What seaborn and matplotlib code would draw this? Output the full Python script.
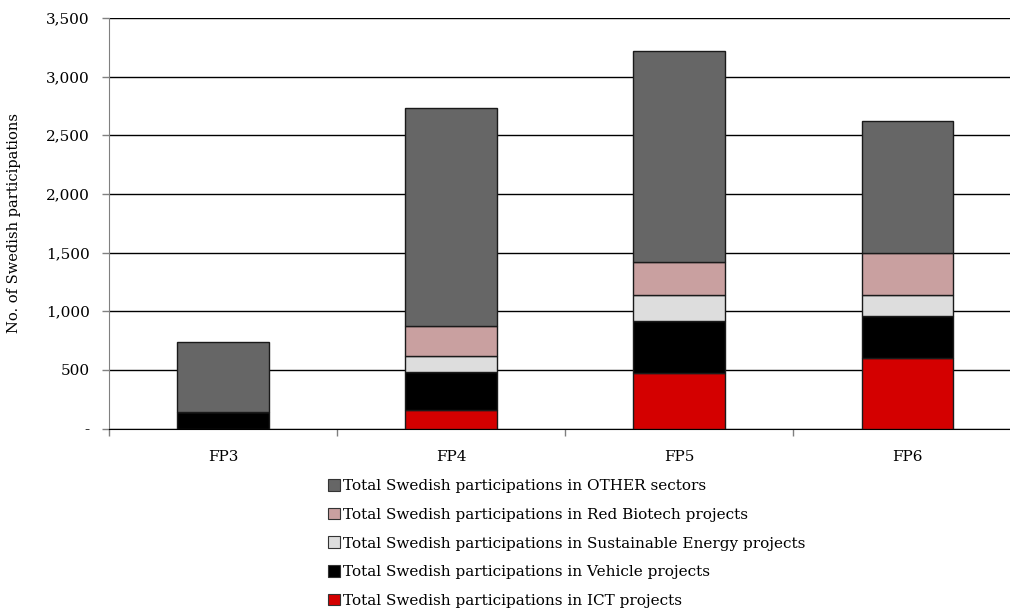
import matplotlib
matplotlib.use("Agg")
import matplotlib.pyplot as plt
import matplotlib.ticker as mticker
from matplotlib.patches import Patch
import seaborn as sns

# Data
periods = ["FP3", "FP4", "FP5", "FP6"]
ict = [0, 160, 475, 605]
vehicle = [140, 325, 440, 355]
sustainable_energy = [0, 130, 225, 180]
red_biotech = [0, 255, 280, 355]
other = [595, 1865, 1802, 1130]

series_labels = [
    "Total Swedish participations in ICT projects",
    "Total Swedish participations in Vehicle projects",
    "Total Swedish participations in Sustainable Energy projects",
    "Total Swedish participations in Red Biotech projects",
    "Total Swedish participations in OTHER sectors",
]
series_values = [ict, vehicle, sustainable_energy, red_biotech, other]
series_colors = ["#D40000", "#000000", "#DDDDDD", "#C9A0A0", "#666666"]

sns.set_style("white")
plt.rcParams["font.family"] = ["DejaVu Serif"]
plt.rcParams["text.color"] = "black"
plt.rcParams["axes.labelcolor"] = "black"
plt.rcParams["xtick.color"] = "black"
plt.rcParams["ytick.color"] = "black"

fig = plt.figure(figsize=(10.1, 6.1), dpi=100)
ax = fig.add_axes([0.108, 0.2975, 0.903, 0.673])

# stacked bars, bottom series first
bottom = [0] * len(periods)
for vals, color in zip(series_values, series_colors):
    sns.barplot(x=periods, y=vals, bottom=bottom, color=color, width=0.4,
                edgecolor="#1a1a1a", linewidth=1.0, saturation=1, ax=ax, zorder=3)
    bottom = [b + v for b, v in zip(bottom, vals)]

ax.set_ylim(0, 3500)
ax.set_xlim(-0.5, 3.5)
ax.yaxis.set_major_locator(mticker.MultipleLocator(500))
ax.yaxis.set_major_formatter(mticker.FuncFormatter(lambda v, p: "-" if v == 0 else f"{int(v):,}"))
ax.grid(axis="y", color="black", linewidth=1.0, zorder=0)
ax.set_axisbelow(True)

for side in ["top", "right"]:
    ax.spines[side].set_visible(False)
ax.spines["left"].set_color("#808080")
ax.spines["bottom"].set_color("black")

ax.tick_params(axis="y", left=True, length=5, width=1, color="#808080", labelsize=11, pad=9)
ax.tick_params(axis="x", bottom=False, labelsize=11, pad=12)
ax.set_xticks([-0.5, 0.5, 1.5, 2.5], minor=True)
ax.tick_params(axis="x", which="minor", bottom=True, length=5, width=1, color="#808080")
ax.set_ylabel("No. of Swedish participations", fontsize=10.5, labelpad=18)

handles = [Patch(facecolor=c, edgecolor="#333333", linewidth=0.8, label=l)
           for c, l in zip(series_colors, series_labels)]
ax.legend(handles=handles[::-1], loc="center", bbox_to_anchor=(0.561, 0.109),
          bbox_transform=fig.transFigure, frameon=False, fontsize=11,
          handlelength=0.8, handleheight=0.8, handletextpad=0.2, labelspacing=0.95)

fig.savefig("out.png", dpi=100)
